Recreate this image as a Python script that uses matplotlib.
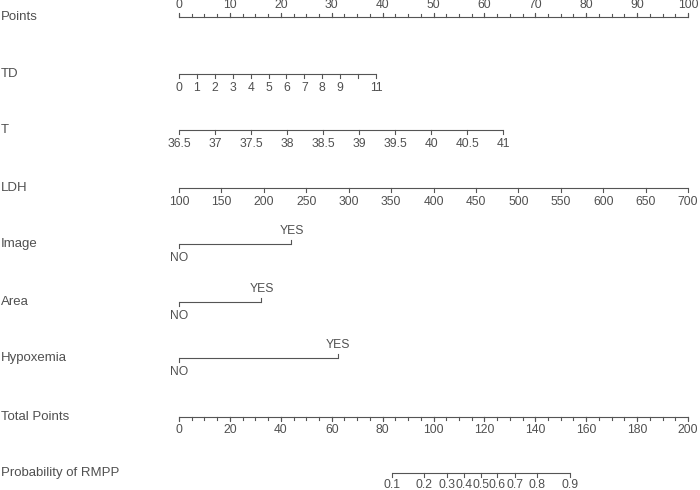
import numpy as np
import matplotlib
matplotlib.use('Agg')
import matplotlib.pyplot as plt

plt.rcParams['font.family'] = ['Liberation Sans', 'DejaVu Sans']

# data (points scale 0-100)
point_ticks = np.arange(0, 101, 10)
point_minor = np.arange(0, 100.1, 2.5)

td_values = np.arange(0, 12)
td_labels = ['0', '1', '2', '3', '4', '5', '6', '7', '8', '9', '', '11']
td_max_points = 38.7

t_values = np.arange(36.5, 41.01, 0.5)
t_labels = ['36.5', '37', '37.5', '38', '38.5', '39', '39.5', '40', '40.5', '41']
t_max_points = 63.75

ldh_values = np.arange(100, 701, 50)
ldh_max_points = 100.0

image_yes_points = 22.1
area_yes_points = 16.2
hypox_yes_points = 31.3

total_ticks = np.arange(0, 201, 20)
total_minor = np.arange(0, 200.1, 5)
total_max = 200

prob_labels = ['0.1', '0.2', '0.3', '0.4', '0.5', '0.6', '0.7', '0.8', '0.9']
prob_total_points = [83.8, 96.4, 105.2, 112.1, 118.6, 125.1, 132.0, 140.6, 153.7]

row_names = ['Points', 'TD', 'T', 'LDH', 'Image', 'Area', 'Hypoxemia',
             'Total Points', 'Probability of RMPP']
row_y = [17, 74, 130, 188, 244, 302, 358, 417, 473]

LC = '#555555'
TC = '#505050'
FS = 8.7

fig = plt.figure(figsize=(7, 4.9), dpi=100)
ax = fig.add_axes([0, 0, 1, 1])
px_per_pt = 5.09
ax.set_xlim(-179 / px_per_pt, (700 - 179) / px_per_pt)
ax.set_ylim(490, 0)
ax.axis('off')


def hline(x0, x1, y):
    ax.plot([x0, x1], [y, y], color=LC, lw=0.8, solid_capstyle='butt')


def ticks(xs, y, length, up=False):
    s = -1 if up else 1
    for x in xs:
        ax.plot([x, x], [y, y + s * length], color=LC, lw=0.8)


def labels(xs, labs, y, off, ha='center'):
    for x, l in zip(xs, labs):
        ax.text(x, y + off, l, ha=ha, va='center', fontsize=FS, color=TC)


for name, y in zip(row_names, row_y):
    ax.text(-179 / px_per_pt + 0.2, y, name, ha='left', va='center',
            fontsize=9.5, color=TC)

# Points
y = row_y[0]
hline(0, 100, y)
ticks(point_minor, y, 2.5, up=True)
ticks(point_ticks, y, 3.5, up=True)
labels(point_ticks, [str(v) for v in point_ticks], y, -12)

# TD
y = row_y[1]
td_x = td_values / td_values.max() * td_max_points
hline(0, td_max_points, y)
ticks(td_x, y, 4)
labels(td_x, td_labels, y, 14)

# T
y = row_y[2]
t_x = (t_values - t_values.min()) / (t_values.max() - t_values.min()) * t_max_points
hline(0, t_max_points, y)
ticks(t_x, y, 4)
labels(t_x, t_labels, y, 14)

# LDH
y = row_y[3]
ldh_x = (ldh_values - ldh_values.min()) / (ldh_values.max() - ldh_values.min()) * ldh_max_points
hline(0, ldh_max_points, y)
ticks(ldh_x, y, 4)
labels(ldh_x, [str(v) for v in ldh_values], y, 13.5)

# binary variables
for y, yes in zip(row_y[4:7], [image_yes_points, area_yes_points, hypox_yes_points]):
    hline(0, yes, y)
    ticks([0], y, 4)
    ticks([yes], y, 4, up=True)
    labels([0], ['NO'], y, 14)
    labels([yes], ['YES'], y, -13)

# Total Points
y = row_y[7]
scale = 100 / total_max
hline(0, 100, y)
ticks(total_minor * scale, y, 2.5)
ticks(total_ticks * scale, y, 4)
labels(total_ticks * scale, [str(v) for v in total_ticks], y, 13)

# Probability
y = row_y[8]
prob_x = np.array(prob_total_points) * scale
hline(prob_x[0], prob_x[-1], y)
ticks(prob_x, y, 4)
labels(prob_x, prob_labels, y, 11.5)

fig.savefig('out.png', dpi=100)
